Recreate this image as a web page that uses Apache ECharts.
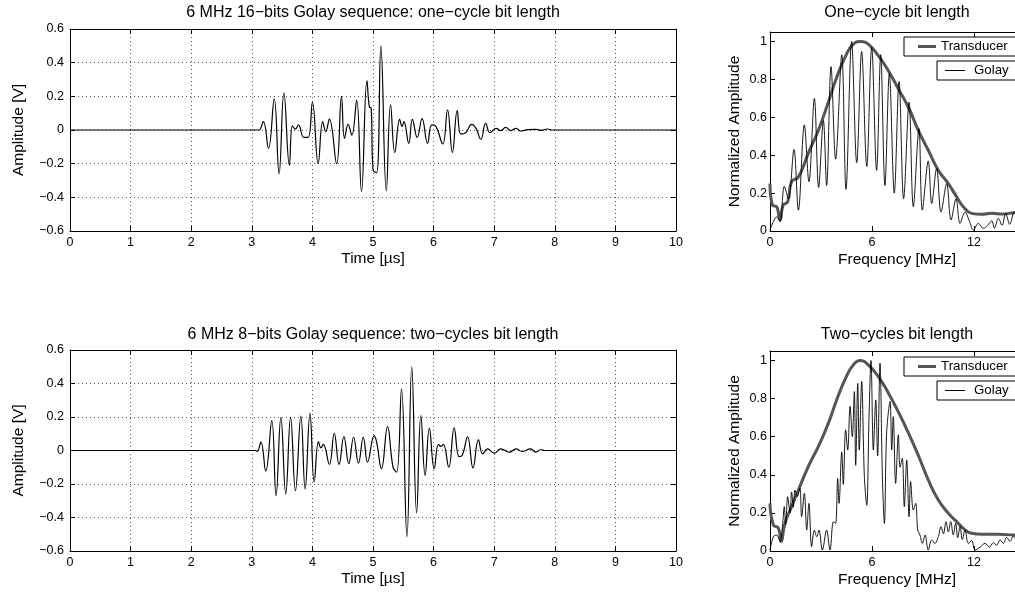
<!DOCTYPE html>
<html><head><meta charset="utf-8">
<script src="https://cdn.jsdelivr.net/npm/echarts@6/dist/echarts.min.js"></script>
<style>html,body{margin:0;padding:0;background:#fff}#c{width:1015px;height:596px}</style>
</head><body><div id="c"></div>
<script>
// ---------- data ----------
const timeTicks = [0,1,2,3,4,5,6,7,8,9,10];
const ampTicks = [-0.6,-0.4,-0.2,0,0.2,0.4,0.6];
const freqTicks = [0,6,12];
const normTicks = [0,0.2,0.4,0.6,0.8,1];

const titles = [
  "6 MHz 16\u2212bits Golay sequence: one\u2212cycle bit length",
  "One\u2212cycle bit length",
  "6 MHz 8\u2212bits Golay sequence: two\u2212cycles bit length",
  "Two\u2212cycles bit length"
];
const axisNames = ["Time [\u00b5s]", "Amplitude [V]", "Frequency [MHz]", "Normalized Amplitude"];
const seriesNames = ["Transducer", "Golay"];

// top-left: 16-bit one-cycle time signal
const tTop = [0,3.08,3.12,3.19,3.275,3.37,3.45,3.53,3.62,3.67,3.72,3.77,3.86,3.93,4.0,4.095,4.17,4.22,4.28,4.40,4.48,4.53,4.59,4.65,4.73,4.81,4.90,4.94,4.97,5.0,5.06,5.13,5.22,5.29,5.36,5.44,5.48,5.51,5.59,5.65,5.73,5.81,5.90,5.97,6.04,6.15,6.23,6.31,6.39,6.45,6.53,6.63,6.70,6.78,6.86,6.93,7.03,7.11,7.19,7.27,7.36,7.44,7.55,7.69,7.78,7.88,7.95,10];
const vTop = [0,0,0.0,0.05,-0.11,0.185,-0.26,0.22,-0.21,0.024,0.005,0.03,-0.044,-0.044,0.165,-0.2,0.05,-0.01,0.065,-0.2,0.2,-0.05,0.034,-0.03,0.178,-0.366,0.293,0.135,0.13,-0.238,-0.253,0.5,-0.362,0.15,-0.135,0.063,0.02,0.05,-0.079,0.063,-0.044,0.067,-0.079,0.03,0.02,-0.083,0.12,-0.133,0.115,-0.024,-0.016,0.034,0.01,-0.055,0.04,-0.016,0.01,-0.004,0.016,-0.004,0.01,-0.006,0.002,0.004,-0.002,0.006,0,0];

// bottom-left: 8-bit two-cycles time signal
const tBot = [0,3.06,3.09,3.15,3.23,3.33,3.40,3.48,3.56,3.64,3.72,3.81,3.88,3.96,4.03,4.10,4.14,4.18,4.28,4.36,4.44,4.52,4.60,4.68,4.76,4.84,4.91,5.02,5.06,5.14,5.24,5.33,5.39,5.47,5.56,5.64,5.72,5.79,5.86,5.93,6.01,6.08,6.12,6.16,6.25,6.34,6.42,6.47,6.56,6.65,6.74,6.81,6.89,7.0,7.11,7.25,7.36,7.46,7.6,7.69,7.77,7.83,10];
const vBot = [0,0,-0.005,0.05,-0.123,0.178,-0.27,0.198,-0.26,0.198,-0.24,0.206,-0.23,0.222,-0.188,0.053,0.016,0.036,-0.083,0.103,-0.083,0.083,-0.079,0.079,-0.075,0.079,-0.069,0.089,0.05,-0.109,0.143,-0.099,-0.129,0.366,-0.515,0.50,-0.372,0.208,-0.149,0.133,-0.109,0.036,0.025,0.036,-0.1,0.135,-0.036,-0.03,0.081,-0.104,0.063,-0.02,0.01,-0.016,0.01,-0.01,0.01,-0.006,0.01,-0.01,0.006,0,0];

// top-right spectra
const fTransTop = [0,0.14,0.39,0.59,0.78,1.04,1.27,1.67,2.25,2.84,3.43,3.92,4.41,4.9,5.39,5.78,6.37,6.96,7.55,8.14,8.73,9.31,9.9,10.49,10.98,11.37,11.86,12.45,13.04,13.7,14.4,15];
const aTransTop = [0.25,0.137,0.128,0.058,0.137,0.154,0.26,0.285,0.41,0.53,0.68,0.81,0.916,0.986,1.0,0.986,0.925,0.846,0.75,0.653,0.53,0.426,0.32,0.25,0.18,0.128,0.093,0.088,0.093,0.09,0.096,0.095];
const fGolayTop = [0,0.2,0.39,0.59,0.84,1.08,1.41,1.67,2.02,2.29,2.61,2.86,3.14,3.33,3.59,3.86,4.22,4.47,4.8,5.1,5.39,5.69,5.98,6.27,6.51,6.76,7.02,7.31,7.59,7.86,8.18,8.43,8.76,8.96,9.31,9.51,9.8,10.06,10.39,10.65,10.94,11.18,11.47,11.76,11.96,12.25,12.55,12.8,13.04,13.2,13.43,13.65,13.86,14.1,14.37,14.6,14.8,15];
const aGolayTop = [0.005,0.05,0.075,0.05,0.236,0.17,0.43,0.11,0.56,0.26,0.70,0.23,0.583,0.24,0.867,0.38,0.93,0.22,1.0,0.36,0.947,0.34,0.968,0.32,0.93,0.24,0.83,0.2,0.79,0.17,0.68,0.128,0.54,0.11,0.37,0.145,0.33,0.1,0.25,0.058,0.17,0.04,0.1,0.044,0.005,0.04,0.014,0.03,0.054,0.015,0.067,0.03,0.093,0.035,0.1,0.06,0.11,0.08];

// bottom-right spectra
const fTransBot = [0,0.2,0.49,0.65,0.88,1.27,1.67,2.25,2.84,3.43,3.92,4.41,4.9,5.35,5.78,6.37,6.96,7.55,8.14,8.73,9.31,9.9,10.49,10.98,11.37,11.86,12.45,13.4,14.4,15];
const aTransBot = [0.25,0.137,0.12,0.05,0.145,0.233,0.32,0.443,0.548,0.67,0.793,0.9,0.977,1.0,0.977,0.916,0.83,0.73,0.62,0.5,0.373,0.268,0.198,0.154,0.119,0.093,0.088,0.088,0.084,0.085];
const fGolayBot = [0,0.2,0.39,0.59,0.73,0.84,0.92,1.04,1.18,1.27,1.37,1.47,1.6,1.76,1.86,2.02,2.16,2.29,2.45,2.61,2.75,2.88,3.08,3.33,3.53,3.73,3.86,3.98,4.06,4.22,4.31,4.45,4.57,4.71,4.84,4.96,5.04,5.16,5.25,5.39,5.55,5.69,5.82,5.94,6.08,6.22,6.33,6.47,6.61,6.73,6.86,7.06,7.16,7.25,7.39,7.55,7.65,7.78,7.9,8.04,8.18,8.27,8.43,8.57,8.69,8.82,8.96,9.12,9.31,9.51,9.7,9.9,10.06,10.2,10.35,10.49,10.63,10.78,10.92,11.04,11.18,11.31,11.47,11.67,11.86,12.06,12.35,12.65,12.9,13.14,13.33,13.53,13.73,13.92,14.12,14.31,14.5,14.8,15];
const aGolayBot = [0.005,0.075,0.084,0.05,0.128,0.233,0.14,0.285,0.2,0.31,0.23,0.32,0.285,0.33,0.18,0.303,0.11,0.25,0.023,0.11,0.075,0.11,0.005,0.11,0.005,0.154,0.145,0.38,0.25,0.52,0.35,0.636,0.53,0.76,0.6,0.837,0.45,0.88,0.53,0.89,0.39,0.24,0.69,1.0,0.53,0.793,0.5,0.986,0.39,0.145,0.62,0.785,0.53,0.705,0.355,0.61,0.44,0.487,0.233,0.478,0.18,0.364,0.215,0.25,0.11,0.084,0.04,0.084,0.005,0.058,0.04,0.075,0.128,0.09,0.154,0.1,0.154,0.085,0.145,0.07,0.128,0.06,0.11,0.04,0.055,0.005,0.02,0.04,0.02,0.044,0.03,0.058,0.04,0.072,0.05,0.079,0.06,0.09,0.08];

// ---------- build ----------
const FONT = "'Liberation Sans', Arial, Helvetica, sans-serif";
const zip = (a, b) => a.map((x, i) => [x, b[i]]);
const fmtMinus = v => { const r = Math.round(v * 10) / 10; return r < 0 ? '\u2212' + Math.abs(r) : String(r); };

const grids = [
  {left: 70, top: 29, width: 606, height: 202},
  {left: 770, top: 32, width: 245, height: 199},
  {left: 70, top: 350, width: 606, height: 201},
  {left: 770, top: 351, width: 245, height: 200}
];
const FREQ_MAX = 14.41; // right panels are cut off by the picture edge

const frame = {show: true, onZero: false, lineStyle: {color: '#000', width: 1}};
const tick = {show: true, inside: true, length: 5, lineStyle: {color: '#000', width: 1}};
const dotted = {show: true, lineStyle: {color: '#555', type: [1, 3], width: 1}};
const lbl = (m, extra) => Object.assign({fontSize: 12.5, color: '#000', fontFamily: FONT, margin: m}, extra || {});
const nameStyle = {fontSize: 15.5, color: '#000', fontFamily: FONT};

const xAxis = [], yAxis = [];
function addAxes(gi, left) {
  const xt = left ? timeTicks : freqTicks, yt = left ? ampTicks : normTicks;
  const xMin = xt[0], xMax = left ? xt[xt.length - 1] : FREQ_MAX, xInt = xt[1] - xt[0];
  const yMin = yt[0], yMax = left ? yt[yt.length - 1] : 1.05, yInt = +(yt[1] - yt[0]).toFixed(2);
  xAxis.push({gridIndex: gi, type: 'value', position: 'bottom', min: xMin, max: xMax, interval: xInt,
    axisLine: frame, axisTick: tick, splitLine: left ? dotted : {show: false},
    axisLabel: lbl(5, {showMaxLabel: left}),
    name: left ? axisNames[0] : '', nameLocation: 'middle', nameGap: 20, nameTextStyle: nameStyle});
  xAxis.push({gridIndex: gi, type: 'value', position: 'top', min: xMin, max: xMax, interval: xInt,
    axisLine: frame, axisTick: tick, splitLine: {show: false}, axisLabel: {show: false}});
  yAxis.push({gridIndex: gi, type: 'value', position: 'left', min: yMin, max: yMax, interval: yInt,
    axisLine: frame, axisTick: tick, splitLine: left ? dotted : {show: false},
    axisLabel: lbl(left ? 6 : 3, {formatter: fmtMinus, showMaxLabel: left}),
    name: left ? axisNames[1] : axisNames[3], nameLocation: 'middle', nameGap: left ? 43 : 27,
    nameTextStyle: nameStyle});
  yAxis.push({gridIndex: gi, type: 'value', position: 'right', min: yMin, max: yMax, interval: yInt, show: left,
    axisLine: frame, axisTick: tick, splitLine: {show: false}, axisLabel: {show: false}});
}
addAxes(0, true); addAxes(1, false); addAxes(2, true); addAxes(3, false);

const sigLine = (gi, data) => ({type: 'line', xAxisIndex: gi * 2, yAxisIndex: gi * 2, data, symbol: 'none',
  smooth: 0.45, lineStyle: {color: '#000', width: 1.2}, color: '#000', silent: true, z: 3});
const transLine = (gi, data) => ({type: 'line', name: seriesNames[0], xAxisIndex: gi * 2, yAxisIndex: gi * 2, data,
  symbol: 'none', smooth: 0.5, lineStyle: {color: '#555', width: 3}, color: '#555', silent: true, z: 2});
const golayLine = (gi, data) => ({type: 'line', name: seriesNames[1], xAxisIndex: gi * 2, yAxisIndex: gi * 2, data,
  symbol: 'none', smooth: 0.35, lineStyle: {color: '#000', width: 0.9}, color: '#000', silent: true, z: 3});

const series = [
  sigLine(0, zip(tTop, vTop)),
  transLine(1, zip(fTransTop, aTransTop)),
  golayLine(1, zip(fGolayTop, aGolayTop)),
  sigLine(2, zip(tBot, vBot)),
  transLine(3, zip(fTransBot, aTransBot)),
  golayLine(3, zip(fGolayBot, aGolayBot))
];

const legStyle = {fontSize: 13.3, lineHeight: 13, color: '#000', fontFamily: FONT};
function legends(top) {
  return [
    {data: [seriesNames[0]], left: 904, top: top, icon: 'rect', itemWidth: 18, itemHeight: 3, itemGap: 0,
      padding: [3, 12, 3, 14], borderColor: '#000', borderWidth: 1, backgroundColor: '#fff', borderRadius: 0,
      textStyle: legStyle, selectedMode: false},
    {data: [seriesNames[1]], left: 937, top: top + 24, icon: 'rect', itemWidth: 20, itemHeight: 1, itemGap: 0,
      padding: [3, 12, 3, 8], borderColor: '#000', borderWidth: 1, backgroundColor: '#fff', borderRadius: 0,
      textStyle: Object.assign({padding: [0, 0, 0, 4]}, legStyle), selectedMode: false}
  ];
}

const textAt = (x, y, text, size) => ({type: 'text', x: x, y: y, silent: true,
  style: {text: text, align: 'center', textAlign: 'center', verticalAlign: 'middle', textVerticalAlign: 'middle',
    font: size + 'px ' + FONT, fill: '#000'}});

const chart = echarts.init(document.getElementById('c'), null, {renderer: 'canvas'});
chart.setOption({
  animation: false,
  backgroundColor: '#fff',
  grid: grids,
  xAxis: xAxis,
  yAxis: yAxis,
  series: series,
  legend: legends(37).concat(legends(357)),
  graphic: [
    textAt(373, 13, titles[0], 16),
    textAt(897, 13, titles[1], 16),
    textAt(373, 335, titles[2], 16),
    textAt(897, 335, titles[3], 16),
    textAt(897, 260, axisNames[2], 15.5),
    textAt(897, 580, axisNames[2], 15.5)
  ]
});
</script>
</body></html>
